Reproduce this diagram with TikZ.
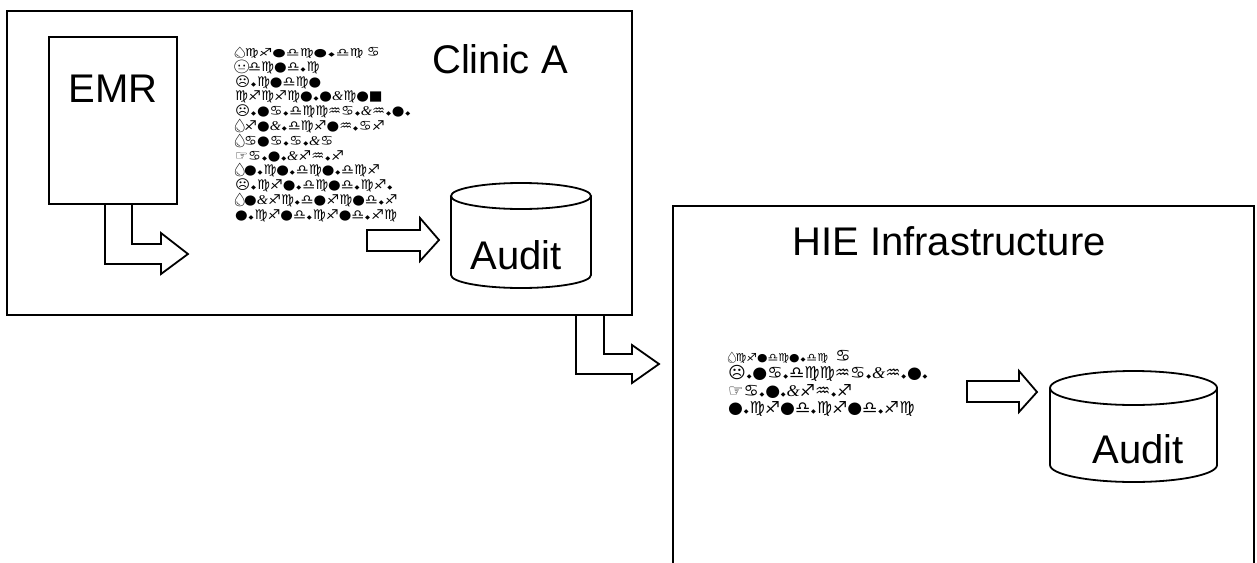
\documentclass[tikz,border=0pt]{standalone}
\usepackage{fontspec}
\usepackage{graphicx}
\setmainfont{Liberation Sans}
\newfontfamily\symf{DejaVu Sans}
\newfontfamily\emof{Noto Emoji}
\newfontfamily\serf{Liberation Serif}
\usetikzlibrary{calc}

% pictographic glyphs used in the note blocks
\newcommand\gDrop{{\emof\makebox[0.62em]{💧}}}
\newcommand\gMeh{{\emof\makebox[0.9em]{😐}}}
\newcommand\gDot{\hspace{0.8pt}{\fontsize{6}{6}\selectfont ◆}\hspace{0.8pt}}
\newcommand\gAmp{{\serf\itshape\&}}
% first note row: #1 font size, #2 horizontal stretch, #3 gap before the last sign
\newcommand\firstrow[3]{\scalebox{#2}[1]{\fontsize{#1}{#1}\selectfont\gDrop♍♐●♎♍●\gDot♎♍}\hspace{#3}♋}

% database drum drawn inside an (invisible) named node: #1 node, #2 x radius, #3 y radius
\newcommand\drum[3]{%
  \draw[outline] ($(#1.north)+(0,#3)$) ellipse [x radius=#2pt, y radius=#3pt];
  \draw[outline] ($(#1.north west)+(0,#3)$) -- ($(#1.south west)+(0,-#3)$)
    arc[start angle=180, end angle=360, x radius=#2pt, y radius=#3pt]
    -- ($(#1.north east)+(0,#3)$);
}

\begin{document}
\begin{tikzpicture}[x=1pt, y=-1pt,
  outline/.style={draw, line width=1.8pt, outer sep=0pt},
  blockarrow/.style={draw, line width=1.8pt, line join=miter},
  bigtext/.style={font=\fontsize{40}{48}\selectfont, inner sep=0pt, anchor=base},
  glyphs/.style={align=left, inner sep=0pt, anchor=north west, transform shape},
  holder/.style={inner sep=0pt, outer sep=0pt, anchor=north west}]

\useasboundingbox (0,0) rectangle (1257,562);

% containers
\node[outline, anchor=north west, minimum width=625, minimum height=304] (clinic) at (7,11) {};
\node[outline, anchor=north west, minimum width=581, minimum height=420] (hie) at (673,206) {};
\node[outline, anchor=north west, minimum width=128, minimum height=167] (emr) at (49,37) {};

% titles
\node[bigtext] (emrlbl) at (113,102) {EMR};
\node[bigtext] (clinlbl) at (500,73) {Clinic A};
\node[bigtext] (hielbl) at (949,255) {HIE Infrastructure};

% audit stores
\node[holder, minimum width=140, minimum height=105] (dbA) at (451,183) {};
\node[holder, minimum width=167, minimum height=111] (dbB) at (1050,371) {};
\drum{dbA}{70}{13}
\drum{dbB}{83.5}{17}
\node[bigtext] (dbAlbl) at (516,269) {Audit};
\node[bigtext] (dbBlbl) at (1138,463) {Audit};

% note blocks (slightly widened)
\begin{scope}[shift={(235,47)}, xscale=1.08]
\node[glyphs, font=\symf\fontsize{13.4}{14.8}\selectfont] (notesA) at (0,0) {\firstrow{11}{1.3}{3pt}\\
\gMeh♎♍●♎\gDot♍\\
☹\gDot♍●♎♍●\\
♍♐♍♐♍●\gDot●\gAmp♍●■\\
☹\gDot●♋\gDot♎♍♍♒♋\gDot\gAmp♒\gDot●\gDot\\
\gDrop♐●\gAmp\gDot♎♍♐●♒\gDot♋♐\\
\gDrop♋●♋\gDot♋\gDot\gAmp♋\\
☞♋\gDot●\gDot\gAmp♐♒\gDot♐\\
\gDrop●\gDot♍●\gDot♎♍●\gDot♎♍♐\\
☹\gDot♍♐●\gDot♎♍●♎\gDot♍♐\gDot\\
\gDrop●\gAmp♐♍\gDot♎●♐♍●♎\gDot♐\\
●\gDot♍♐●♎\gDot♍♐●♎\gDot♐♍};
\end{scope}

\begin{scope}[shift={(728,350)}, xscale=1.04]
\node[glyphs, font=\symf\fontsize{16.4}{17.5}\selectfont] (notesB) at (0,0) {\firstrow{11}{1.05}{7pt}\\
☹\gDot●♋\gDot♎♍♍♒♋\gDot\gAmp♒\gDot●\gDot\\
☞♋\gDot●\gDot\gAmp♐♒\gDot♐\\
●\gDot♍♐●♎\gDot♍♐●♎\gDot♐♍};
\end{scope}

% flows
\draw[blockarrow] (105,0 |- emr.south) -- (105,264) -- (161,264) -- (161,274)
  -- (188,254) -- (161,233) -- (161,244) -- (132,244) -- (132,0 |- emr.south);
\draw[blockarrow] (367,230) -- (420,230) -- (420,218) -- (439,240)
  -- (420,261) -- (420,251) -- (367,251) -- cycle;
\draw[blockarrow] (576,0 |- clinic.south) -- (576,374) -- (632,374) -- (632,383)
  -- (659,364) -- (632,345) -- (632,354) -- (604,354) -- (604,0 |- clinic.south);
\draw[blockarrow] (967,381) -- (1019,381) -- (1019,371) -- (1037,392)
  -- (1019,412) -- (1019,402) -- (967,402) -- cycle;
\end{tikzpicture}
\end{document}
